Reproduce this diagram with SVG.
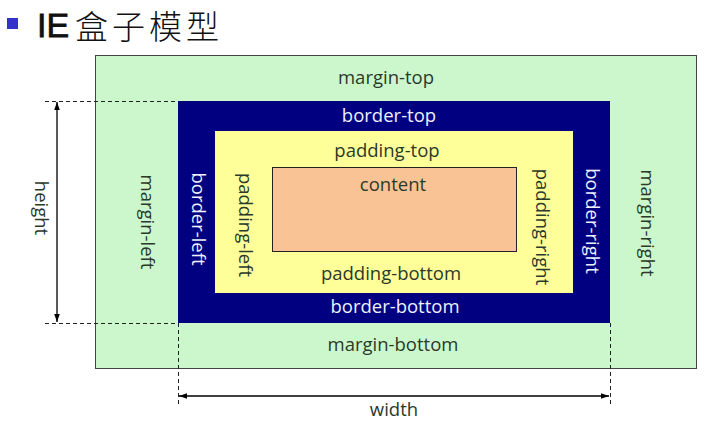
<svg xmlns="http://www.w3.org/2000/svg" width="713" height="445" viewBox="0 0 713 445">
<style>
.t{font-family:"Open Sans","Liberation Sans",sans-serif;font-size:18.5px;text-anchor:middle}
.dk{fill:#2a3a2a}
.wh{fill:#eef0ff}
.dash{stroke:#222;stroke-width:1;stroke-dasharray:4 3;fill:none}
</style>
<defs>
<marker id="ah" viewBox="0 0 10 10" refX="10" refY="5" markerWidth="8" markerHeight="8" orient="auto-start-reverse" markerUnits="userSpaceOnUse">
<path d="M0,1.5 L10,5 L0,8.5 z" fill="#000"/>
</marker>
</defs>
<rect width="713" height="445" fill="#fff"/>
<g id="title">
<rect x="7" y="18" width="11" height="11" fill="#3333cc"/>
<text x="37" y="37" font-family="'Liberation Sans',sans-serif" font-size="34" fill="#111" stroke="#111" stroke-width="0.8">IE</text>
<text x="75" y="39" font-family="'Noto Sans CJK SC',sans-serif" font-size="33" font-weight="300" letter-spacing="4" fill="#111">盒子模型</text>
</g>
<g id="margin">
<rect x="95.5" y="55.5" width="601" height="313" fill="#ccf7cc" stroke="#444" stroke-width="1"/>
<text class="t dk" x="386" y="84">margin-top</text>
<text class="t dk" x="393" y="351">margin-bottom</text>
<text class="t dk" transform="translate(141,222) rotate(90)">margin-left</text>
<text class="t dk" transform="translate(641,223) rotate(90)">margin-right</text>
</g>
<g id="border">
<rect x="178" y="101" width="432" height="222" fill="#000080"/>
<text class="t wh" x="389" y="122">border-top</text>
<text class="t wh" x="395" y="313">border-bottom</text>
<text class="t wh" transform="translate(192,219) rotate(90)">border-left</text>
<text class="t wh" transform="translate(586,221) rotate(90)">border-right</text>
</g>
<g id="padding">
<rect x="215" y="131" width="358" height="162" fill="#ffff99"/>
<text class="t dk" x="387" y="157">padding-top</text>
<text class="t dk" x="391" y="280">padding-bottom</text>
<text class="t dk" transform="translate(239,225) rotate(90)">padding-left</text>
<text class="t dk" transform="translate(536,227) rotate(90)">padding-right</text>
</g>
<g id="content">
<rect x="272.5" y="167.5" width="244" height="84" fill="#f9c395" stroke="#222" stroke-width="1"/>
<text class="t dk" x="393" y="191">content</text>
</g>
<g id="connectors">
<path class="dash" d="M45,101.5 H178 M45,323.5 H178 M178.5,323 V405 M610.5,323 V405"/>
<line x1="57" y1="102" x2="57" y2="322" stroke="#000" stroke-width="1.3" marker-start="url(#ah)" marker-end="url(#ah)"/>
<line x1="179" y1="396" x2="609" y2="396" stroke="#000" stroke-width="1.3" marker-start="url(#ah)" marker-end="url(#ah)"/>
<text class="t dk" transform="translate(35,208) rotate(90)">height</text>
<text class="t dk" x="394" y="416">width</text>
</g>
</svg>
